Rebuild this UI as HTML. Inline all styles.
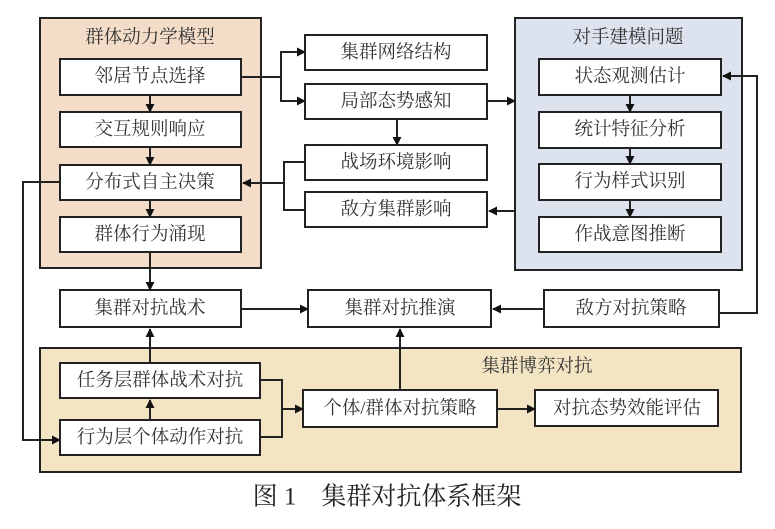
<!DOCTYPE html>
<html><head><meta charset="utf-8"><style>
html,body{margin:0;padding:0;background:#fff}
text{font-family:"Liberation Serif","Noto Serif CJK SC","Noto Sans CJK SC",serif;font-size:18.5px;fill:#333;text-anchor:middle;dominant-baseline:central}
</style></head><body>
<svg width="775" height="524" viewBox="0 0 775 524" xmlns="http://www.w3.org/2000/svg">
<defs><marker id="a" viewBox="0 0 10 10" refX="9" refY="5" markerWidth="9" markerHeight="9" markerUnits="userSpaceOnUse" orient="auto"><path d="M0,0L10,5L0,10z" fill="#111"/></marker></defs>
<g stroke="#222" stroke-width="2">
<rect x="40" y="18" width="221" height="250" fill="#f3dcc8"/>
<rect x="515" y="18" width="227" height="252" fill="#dde3ee"/>
<rect x="40" y="348" width="701" height="124" fill="#f3e5c3"/>
<g fill="#fff">
<rect x="60" y="59" width="181" height="36"/><rect x="60" y="112" width="181" height="35"/><rect x="60" y="165" width="181" height="35"/><rect x="60" y="217" width="181" height="35"/>
<rect x="305" y="35" width="182" height="35"/><rect x="305" y="84" width="182" height="35"/><rect x="305" y="145" width="182" height="35"/><rect x="305" y="192" width="182" height="35"/>
<rect x="539" y="59" width="182" height="36"/><rect x="539" y="112" width="182" height="36"/><rect x="539" y="164" width="182" height="36"/><rect x="539" y="217" width="182" height="35"/>
<rect x="60" y="290" width="181" height="37"/><rect x="308" y="290" width="183" height="37"/><rect x="544" y="290" width="175" height="37"/>
<rect x="60" y="363" width="200" height="35"/><rect x="60" y="420" width="200" height="35"/>
<rect x="303" y="390" width="194" height="37"/><rect x="535" y="390" width="183" height="36"/>
</g>
<g fill="none" marker-end="url(#a)">
<path d="M150,95V112"/><path d="M150,147V165"/><path d="M150,200V217"/>
<path d="M630,95V112"/><path d="M630,148V164"/><path d="M630,200V217"/>
<path d="M241,77H281V52H305"/><path d="M281,77V101H305"/>
<path d="M487,101H515"/><path d="M397,119V145"/>
<path d="M305,162H284V210H305" marker-end="none"/><path d="M284,183H243"/>
<path d="M515,211H489"/>
<path d="M150,252V290"/><path d="M241,309H308"/><path d="M544,309H493"/>
<path d="M719,313H757V76H723"/>
<path d="M60,182H23V440H60"/>
<path d="M150,363V329"/><path d="M150,420V400"/>
<path d="M260,380H282V437H260" marker-end="none"/><path d="M282,409H303"/>
<path d="M400,390V329"/><path d="M497,409H535"/>
</g>
</g>
<text x="150" y="38">群体动力学模型</text>
<text x="150" y="77">邻居节点选择</text><text x="150" y="130">交互规则响应</text><text x="150" y="183">分布式自主决策</text><text x="150" y="235">群体行为涌现</text>
<text x="396" y="53">集群网络结构</text><text x="396" y="102">局部态势感知</text><text x="396" y="163">战场环境影响</text><text x="396" y="210">敌方集群影响</text>
<text x="628" y="38">对手建模问题</text>
<text x="630" y="77">状态观测估计</text><text x="630" y="130">统计特征分析</text><text x="630" y="182">行为样式识别</text><text x="630" y="235">作战意图推断</text>
<text x="150" y="309">集群对抗战术</text><text x="400" y="309">集群对抗推演</text><text x="631" y="309">敌方对抗策略</text>
<text x="537" y="367">集群博弈对抗</text>
<text x="160" y="381">任务层群体战术对抗</text><text x="160" y="438">行为层个体动作对抗</text>
<text x="400" y="409">个体/群体对抗策略</text><text x="627" y="409">对抗态势效能评估</text>
<text x="387" y="497" style="font-size:25px;fill:#222">图 1　集群对抗体系框架</text>
</svg>
</body></html>
